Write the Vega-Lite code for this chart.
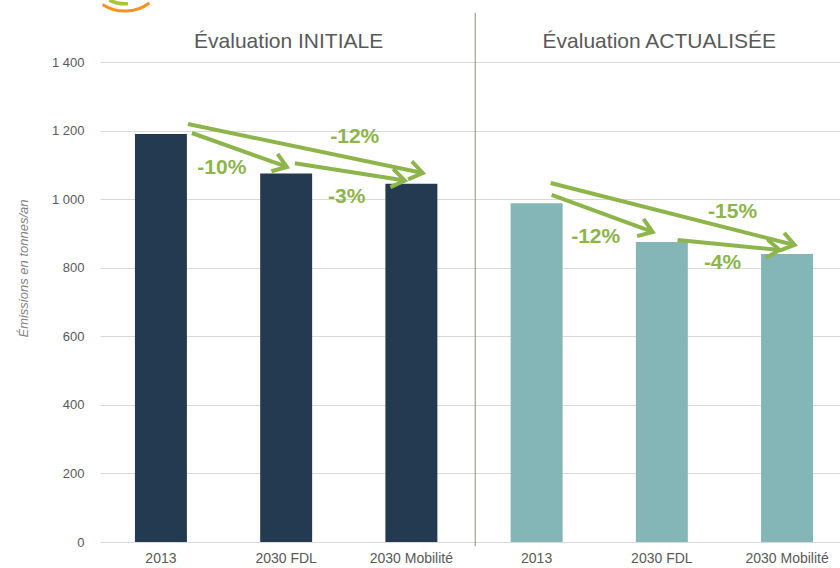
{
  "$schema": "https://vega.github.io/schema/vega-lite/v6.json",
  "width": 740,
  "height": 480,
  "autosize": {"type": "none"},
  "padding": {"left": 100, "top": 62, "right": 0, "bottom": 26},
  "background": "white",
  "config": {"view": {"stroke": null}, "font": "Liberation Sans"},
  "datasets": {
    "bars": [
      {"cat": "I|2013", "eval": "INITIALE", "value": 1190},
      {"cat": "I|2030  FDL", "eval": "INITIALE", "value": 1075},
      {"cat": "I|2030  Mobilité", "eval": "INITIALE", "value": 1045},
      {"cat": "A|2013", "eval": "ACTUALISÉE", "value": 988},
      {"cat": "A|2030  FDL", "eval": "ACTUALISÉE", "value": 875},
      {"cat": "A|2030  Mobilité", "eval": "ACTUALISÉE", "value": 840}
    ],
    "divider": [{"ax": 2.51, "top": 1543, "bottom": -12}],
    "logo": [{"ax": -0.2874, "ay": 1668}],
    "arrows": [
      {"seg": "A1", "ord": 1, "ax": 0.2474, "ay": 1192.9},
      {"seg": "A1", "ord": 2, "ax": 1.0056, "ay": 1093.8},
      {"seg": "A2", "ord": 1, "ax": 0.9318, "ay": 1132.0},
      {"seg": "A2", "ord": 2, "ax": 1.0056, "ay": 1093.8},
      {"seg": "A2", "ord": 3, "ax": 0.8827, "ay": 1081.5},
      {"seg": "B1", "ord": 1, "ax": 0.2155, "ay": 1219.2},
      {"seg": "B1", "ord": 2, "ax": 2.0910, "ay": 1076.3},
      {"seg": "B2", "ord": 1, "ax": 2.0040, "ay": 1110.4},
      {"seg": "B2", "ord": 2, "ax": 2.0910, "ay": 1076.3},
      {"seg": "B2", "ord": 3, "ax": 1.9737, "ay": 1057.9},
      {"seg": "C1", "ord": 1, "ax": 1.0694, "ay": 1104.7},
      {"seg": "C1", "ord": 2, "ax": 1.9473, "ay": 1054.2},
      {"seg": "C2", "ord": 1, "ax": 1.8552, "ay": 1088.2},
      {"seg": "C2", "ord": 2, "ax": 1.9473, "ay": 1054.2},
      {"seg": "C2", "ord": 3, "ax": 1.8324, "ay": 1035.1},
      {"seg": "D1", "ord": 1, "ax": 3.1125, "ay": 1047.0},
      {"seg": "D1", "ord": 2, "ax": 5.0599, "ay": 866.3},
      {"seg": "D2", "ord": 1, "ax": 4.9769, "ay": 901.5},
      {"seg": "D2", "ord": 2, "ax": 5.0599, "ay": 866.3},
      {"seg": "D2", "ord": 3, "ax": 4.9401, "ay": 849.6},
      {"seg": "E1", "ord": 1, "ax": 3.1205, "ay": 1012.1},
      {"seg": "E1", "ord": 2, "ax": 3.9266, "ay": 904.2},
      {"seg": "E2", "ord": 1, "ax": 3.8535, "ay": 942.4},
      {"seg": "E2", "ord": 2, "ax": 3.9266, "ay": 904.2},
      {"seg": "E2", "ord": 3, "ax": 3.8029, "ay": 892.2},
      {"seg": "F1", "ord": 1, "ax": 4.1261, "ay": 880.8},
      {"seg": "F1", "ord": 2, "ax": 4.9401, "ay": 851.7},
      {"seg": "F2", "ord": 1, "ax": 4.8436, "ay": 882.0},
      {"seg": "F2", "ord": 2, "ax": 4.9401, "ay": 851.7},
      {"seg": "F2", "ord": 3, "ax": 4.8300, "ay": 828.6}
    ],
    "pct": [
      {"t": "-10%", "ax": 0.4868, "ay": 1091},
      {"t": "-12%", "ax": 1.548, "ay": 1181},
      {"t": "-3%", "ax": 1.484, "ay": 1006},
      {"t": "-15%", "ax": 4.565, "ay": 962},
      {"t": "-12%", "ax": 3.472, "ay": 890},
      {"t": "-4%", "ax": 4.485, "ay": 814}
    ],
    "titles": [
      {"t": "Évaluation INITIALE", "ax": 1.02, "ay": 1458},
      {"t": "Évaluation ACTUALISÉE", "ax": 3.98, "ay": 1458}
    ]
  },
  "layer": [
    {
      "data": {"name": "bars"},
      "mark": {"type": "bar"},
      "encoding": {
        "x": {
          "field": "cat", "type": "nominal", "sort": null,
          "scale": {"range": [0, 748], "paddingInner": 0.585, "paddingOuter": 0.279},
          "axis": {"title": null, "labelExpr": "split(datum.value,'|')[1]", "domain": false, "ticks": false,
                   "labelPadding": 9, "labelFont": "Liberation Sans", "labelFontSize": 14,
                   "labelColor": "#595959", "labelAngle": 0}
        },
        "y": {
          "field": "value", "type": "quantitative",
          "scale": {"domain": [0, 1400], "nice": false},
          "axis": {
            "title": "Émissions en tonnes/an", "titleFont": "Liberation Sans", "titleFontStyle": "italic",
            "titleFontWeight": "normal", "titleFontSize": 13, "titleColor": "#7F7F7F",
            "titleX": -77, "titleY": 206, "titleAngle": -90, "titleAlign": "center", "titleBaseline": "middle",
            "values": [0, 200, 400, 600, 800, 1000, 1200, 1400],
            "labelExpr": "replace(format(datum.value, ','), ',', ' ')",
            "labelFont": "Liberation Sans", "labelFontSize": 13, "labelColor": "#595959",
            "labelPadding": 16, "ticks": false, "domain": false, "gridColor": "#D9D9D9", "gridWidth": 1
          }
        },
        "color": {
          "field": "eval", "type": "nominal",
          "scale": {"domain": ["INITIALE", "ACTUALISÉE"], "range": ["#243A51", "#84B6B7"]},
          "legend": null
        }
      }
    },
    {
      "layer": [
        {
          "data": {"name": "divider"},
          "mark": {"type": "rule", "color": "#8C8C84", "strokeWidth": 1},
          "encoding": {
            "x": {"field": "ax", "type": "quantitative", "scale": {"domain": [-0.4863, 5.4229], "zero": false, "nice": false}, "axis": null},
            "y": {"field": "top", "type": "quantitative", "scale": {"domain": [0, 1400], "nice": false}},
            "y2": {"field": "bottom"}
          }
        },
        {
          "data": {"name": "logo"},
          "mark": {"type": "arc", "theta": 2.5, "theta2": 3.72, "outerRadius": 42.5, "innerRadius": 39.5, "color": "#F39321"},
          "encoding": {
            "x": {"field": "ax", "type": "quantitative", "scale": {"domain": [-0.4863, 5.4229], "zero": false, "nice": false}, "axis": null},
            "y": {"field": "ay", "type": "quantitative", "scale": {"domain": [0, 1400], "nice": false}}
          }
        },
        {
          "data": {"name": "logo"},
          "mark": {"type": "arc", "theta": 3.05, "theta2": 3.62, "outerRadius": 35.5, "innerRadius": 32, "color": "#A9C63A"},
          "encoding": {
            "x": {"field": "ax", "type": "quantitative", "scale": {"domain": [-0.4863, 5.4229], "zero": false, "nice": false}, "axis": null},
            "y": {"field": "ay", "type": "quantitative", "scale": {"domain": [0, 1400], "nice": false}}
          }
        },
        {
          "data": {"name": "arrows"},
          "mark": {"type": "line", "color": "#8DB54B", "strokeWidth": 4, "strokeCap": "butt", "strokeJoin": "miter"},
          "encoding": {
            "x": {"field": "ax", "type": "quantitative", "scale": {"domain": [-0.4863, 5.4229], "zero": false, "nice": false}, "axis": null},
            "y": {"field": "ay", "type": "quantitative", "scale": {"domain": [0, 1400], "nice": false}},
            "detail": {"field": "seg"},
            "order": {"field": "ord", "type": "quantitative"}
          }
        },
        {
          "data": {"name": "pct"},
          "mark": {"type": "text", "color": "#8DB54B", "fontSize": 21, "fontWeight": "bold", "align": "center", "baseline": "middle"},
          "encoding": {
            "x": {"field": "ax", "type": "quantitative", "scale": {"domain": [-0.4863, 5.4229], "zero": false, "nice": false}, "axis": null},
            "y": {"field": "ay", "type": "quantitative", "scale": {"domain": [0, 1400], "nice": false}},
            "text": {"field": "t"}
          }
        },
        {
          "data": {"name": "titles"},
          "mark": {"type": "text", "color": "#595959", "fontSize": 21, "align": "center", "baseline": "middle"},
          "encoding": {
            "x": {"field": "ax", "type": "quantitative", "scale": {"domain": [-0.4863, 5.4229], "zero": false, "nice": false}, "axis": null},
            "y": {"field": "ay", "type": "quantitative", "scale": {"domain": [0, 1400], "nice": false}},
            "text": {"field": "t"}
          }
        }
      ]
    }
  ],
  "resolve": {"scale": {"x": "independent"}, "axis": {"x": "independent"}}
}
